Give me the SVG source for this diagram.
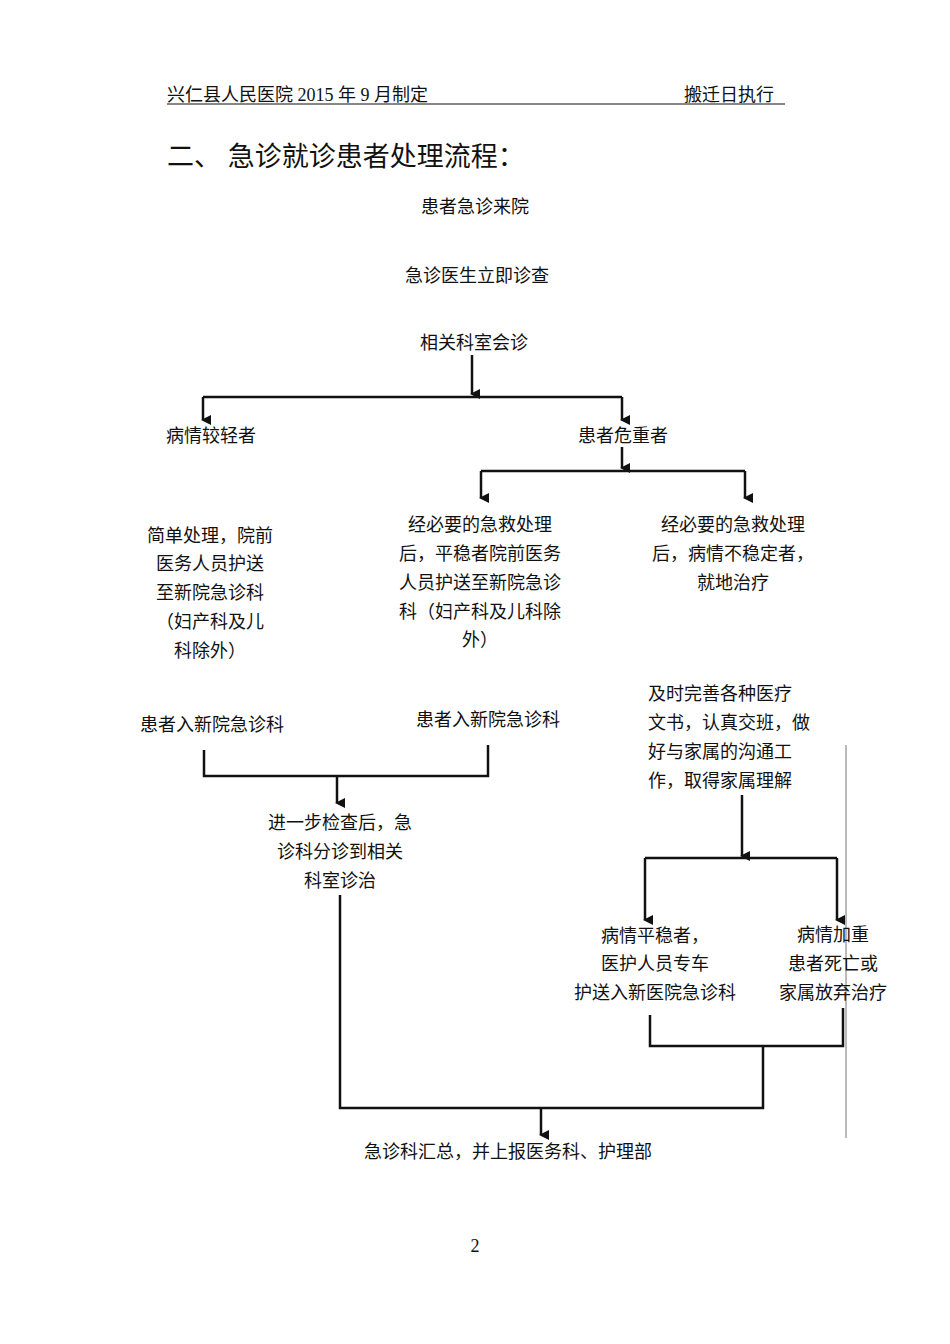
<svg xmlns="http://www.w3.org/2000/svg" width="950" height="1344" viewBox="0 0 950 1344">
<style>
text{font-family:"Liberation Serif","Noto Sans CJK SC",serif;font-size:18px;fill:#111}
.c{text-anchor:middle}
.l{stroke:#111;stroke-width:2.5;fill:none}
</style>
<defs><marker id="a" markerWidth="10" markerHeight="10" refX="5" refY="8" orient="auto" markerUnits="userSpaceOnUse" viewBox="0 0 10 10"><path d="M0,0 L10,0 L5,10 Z" fill="#111"/></marker></defs>
<rect width="950" height="1344" fill="#fff"/>
<g id="header"><text x="167" y="101">兴仁县人民医院 2015 年 9 月制定</text><text x="684" y="101">搬迁日执行</text><line x1="167" y1="104" x2="785" y2="104" stroke="#111" stroke-width="1.2"/></g>
<g id="title"><text x="167" y="166" style="font-size:27px">二、 急诊就诊患者处理流程：</text></g>
<g id="connectors" class="l">
<path class="l" d="M472,355 V394" marker-end="url(#a)"/>
<path class="l" d="M203,397 H622"/>
<path class="l" d="M203,397 V420" marker-end="url(#a)"/>
<path class="l" d="M622,397 V420" marker-end="url(#a)"/>
<path class="l" d="M622,447 V468" marker-end="url(#a)"/>
<path class="l" d="M481,471 H745"/>
<path class="l" d="M481,471 V498" marker-end="url(#a)"/>
<path class="l" d="M745,471 V498" marker-end="url(#a)"/>
<path class="l" d="M204,750 V776 H488 V745"/>
<path class="l" d="M337,776 V803" marker-end="url(#a)"/>
<path class="l" d="M340,895 V1108 H763 V1046"/>
<path class="l" d="M650,1015 V1046 H843 V1008"/>
<path class="l" d="M541,1108 V1135" marker-end="url(#a)"/>
<path class="l" d="M742,795 V856" marker-end="url(#a)"/>
<path class="l" d="M645,858 H837"/>
<path class="l" d="M645,858 V920" marker-end="url(#a)"/>
<path class="l" d="M837,858 V920" marker-end="url(#a)"/>
<line x1="846" y1="745" x2="846" y2="1138" stroke="#777" stroke-width="1"/>
</g>
<g id="n1"><text class="c" x="475" y="213">患者急诊来院</text></g>
<g id="n2"><text class="c" x="477" y="282">急诊医生立即诊查</text></g>
<g id="n3"><text class="c" x="474" y="349">相关科室会诊</text></g>
<g id="n4"><text class="c" x="211" y="442">病情较轻者</text></g>
<g id="n5"><text class="c" x="623" y="442">患者危重者</text></g>
<g id="n6"><text class="c" x="210" y="542">简单处理，院前</text><text class="c" x="210" y="570">医务人员护送</text><text class="c" x="210" y="599">至新院急诊科</text><text class="c" x="210" y="628">（妇产科及儿</text><text class="c" x="210" y="657">科除外）</text></g>
<g id="n7"><text class="c" x="480" y="531">经必要的急救处理</text><text class="c" x="480" y="560">后，平稳者院前医务</text><text class="c" x="480" y="589">人员护送至新院急诊</text><text class="c" x="480" y="618">科（妇产科及儿科除</text><text class="c" x="480" y="646">外）</text></g>
<g id="n8"><text class="c" x="733" y="531">经必要的急救处理</text><text class="c" x="733" y="560">后，病情不稳定者，</text><text class="c" x="733" y="589">就地治疗</text></g>
<g id="n9"><text class="c" x="212" y="731">患者入新院急诊科</text></g>
<g id="n10"><text class="c" x="488" y="726">患者入新院急诊科</text></g>
<g id="n11"><text x="648" y="700">及时完善各种医疗</text><text x="648" y="729">文书，认真交班，做</text><text x="648" y="758">好与家属的沟通工</text><text x="648" y="787">作，取得家属理解</text></g>
<g id="n12"><text class="c" x="340" y="829">进一步检查后，急</text><text class="c" x="340" y="858">诊科分诊到相关</text><text class="c" x="340" y="887">科室诊治</text></g>
<g id="n13"><text class="c" x="655" y="942">病情平稳者，</text><text class="c" x="655" y="970">医护人员专车</text><text class="c" x="655" y="999">护送入新医院急诊科</text></g>
<g id="n14"><text class="c" x="833" y="941">病情加重</text><text class="c" x="833" y="970">患者死亡或</text><text class="c" x="833" y="999">家属放弃治疗</text></g>
<g id="n15"><text class="c" x="508" y="1158">急诊科汇总，并上报医务科、护理部</text></g>
<g id="page"><text class="c" x="475" y="1252">2</text></g>
</svg>
